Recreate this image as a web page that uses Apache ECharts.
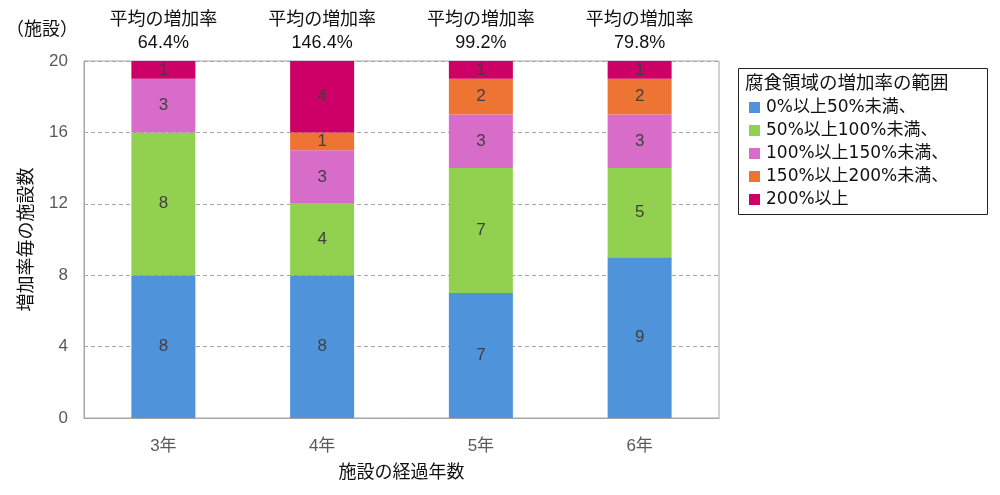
<!DOCTYPE html>
<html><head><meta charset="utf-8">
<script src="https://cdn.jsdelivr.net/npm/echarts@6/dist/echarts.min.js"></script>
<style>html,body{margin:0;padding:0;background:#fff}#c{width:1000px;height:495px}</style>
</head><body><div id="c"></div>
<script>
const categories = ['3年', '4年', '5年', '6年'];
const averages = ['64.4%', '146.4%', '99.2%', '79.8%'];
const seriesNames = ['0%以上50%未満、', '50%以上100%未満、', '100%以上150%未満、', '150%以上200%未満、', '200%以上'];
const s0to50 = [8, 8, 7, 9];
const s50to100 = [8, 4, 7, 5];
const s100to150 = [3, 3, 3, 3];
const s150to200 = [0, 1, 2, 2];
const s200plus = [1, 4, 1, 1];
const yTicks = [0, 4, 8, 12, 16, 20];
const colors = ['#4F94DB', '#92D050', '#D86CC9', '#ED7433', '#CC0066'];
const values = [s0to50, s50to100, s100to150, s150to200, s200plus];

const font = '"Liberation Sans", "Noto Sans CJK JP", sans-serif';
const legendFont = '"DejaVu Sans", "Noto Sans CJK JP", sans-serif';
const chart = echarts.init(document.getElementById('c'));
chart.setOption({
  animation: false,
  textStyle: { fontFamily: font },
  color: colors,
  grid: { left: 84, right: 281, top: 61, bottom: 77, show: true, borderColor: '#A6A6A6', borderWidth: 1, backgroundColor: 'transparent' },
  legend: {
    orient: 'vertical', left: 749, top: 98, padding: 0,
    itemWidth: 11, itemHeight: 11, itemGap: 4, icon: 'rect',
    textStyle: { fontSize: 17, color: '#111', fontFamily: legendFont, padding: [0, 0, 0, 1], lineHeight: 19 },
    data: seriesNames
  },
  graphic: [
    { type: 'rect', shape: { x: 738.5, y: 68.5, width: 249, height: 146 }, style: { fill: 'none', stroke: '#222', lineWidth: 1 } },
    { type: 'text', left: 745, top: 75, style: { text: '腐食領域の増加率の範囲', fontSize: 18.5, fill: '#111', fontFamily: font } },
    { type: 'text', left: 6, top: 21, style: { text: '（施設）', fontSize: 18, fill: '#111', fontFamily: font } }
  ],
  xAxis: [
    {
      type: 'category', data: categories, position: 'bottom',
      axisLine: { lineStyle: { color: '#A6A6A6' } }, axisTick: { show: false },
      axisLabel: { fontSize: 17, color: '#595959', margin: 20, fontFamily: font },
      name: '施設の経過年数', nameLocation: 'middle', nameGap: 46,
      nameTextStyle: { fontSize: 18, color: '#111', fontFamily: font }
    },
    {
      type: 'category', data: categories.map((c, i) => '平均の増加率\n' + averages[i]), position: 'top',
      axisLine: { show: false }, axisTick: { show: false },
      axisLabel: { fontSize: 18, color: '#111', margin: 6, lineHeight: 23, fontFamily: font }
    }
  ],
  yAxis: {
    type: 'value', min: yTicks[0], max: yTicks[yTicks.length - 1], interval: 4,
    axisLine: { show: true, lineStyle: { color: '#A6A6A6' } }, axisTick: { show: false },
    axisLabel: { fontSize: 17, color: '#595959', margin: 16, fontFamily: font },
    splitLine: { lineStyle: { color: '#A6A6A6', type: [4, 3] } },
    name: '増加率毎の施設数', nameLocation: 'middle', nameGap: 48, nameRotate: 90,
    nameTextStyle: { fontSize: 18, color: '#111', fontFamily: font }
  },
  series: seriesNames.map((n, i) => ({
    name: n, type: 'bar', stack: 'total', barWidth: 64, xAxisIndex: 0,
    data: values[i],
    itemStyle: { color: colors[i] },
    label: {
      show: true, position: 'inside', fontSize: 17, color: '#404040', fontFamily: font,
      formatter: p => p.value > 0 ? String(p.value) : ''
    }
  }))
});
</script></body></html>
